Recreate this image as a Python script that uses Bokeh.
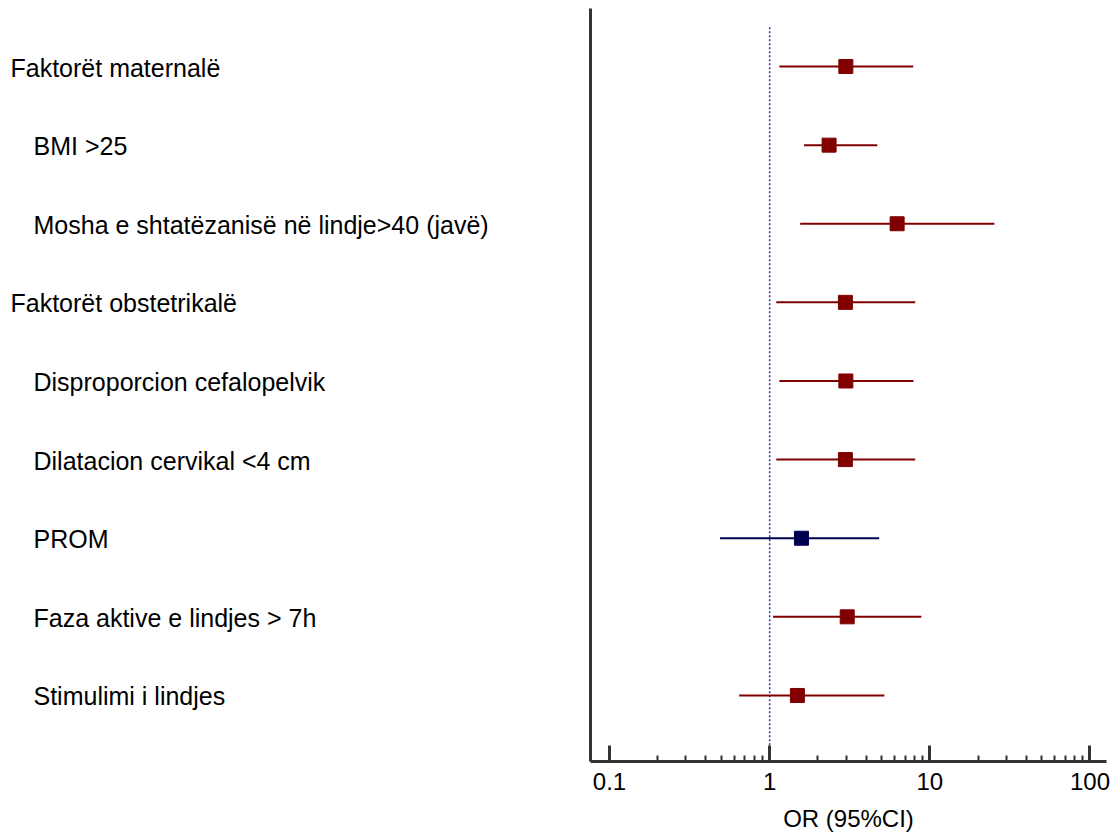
from bokeh.plotting import figure
from bokeh.models import Range1d, FixedTicker, NumeralTickFormatter, ColumnDataSource
from bokeh.layouts import row
from bokeh.embed import file_html
from bokeh.resources import INLINE
from bokeh.core.properties import value

# Forest plot of odds ratios (95% CI), one row per factor, top to bottom
labels = [
    "Faktorët maternalë",
    "BMI >25",
    "Mosha e shtatëzanisë në lindje>40 (javë)",
    "Faktorët obstetrikalë",
    "Disproporcion cefalopelvik",
    "Dilatacion cervikal <4 cm",
    "PROM",
    "Faza aktive e lindjes > 7h",
    "Stimulimi i lindjes",
]
levels = [0, 1, 1, 0, 1, 1, 1, 1, 1]          # 0 = group heading, 1 = factor
odds_ratio = [2.99, 2.35, 6.25, 2.97, 2.99, 2.97, 1.58, 3.05, 1.49]
ci_low = [1.15, 1.64, 1.55, 1.10, 1.15, 1.10, 0.49, 1.05, 0.645]
ci_high = [7.88, 4.70, 25.3, 8.10, 7.90, 8.10, 4.83, 8.85, 5.20]

major_ticks = [0.1, 1, 10, 100]
minor_ticks = [k * d for d in (0.1, 1, 10) for k in range(2, 10)]

MAROON = "#800000"
NAVY = "#000050"
AXIS = "#333333"
FONT = "Liberation Sans"

rows = list(range(len(labels)))
colors = [NAVY if lab == "PROM" else MAROON for lab in labels]

src = ColumnDataSource(dict(
    y=rows, label=labels, level=levels, orr=odds_ratio,
    lo=ci_low, hi=ci_high, color=colors,
    tx=[10 + 23 * lv for lv in levels],
))

y_range = Range1d(8.84, -0.738)
BORDER_TOP = 8
BORDER_BOTTOM = 77

# ---- label column -------------------------------------------------------
left = figure(width=588, height=838, x_range=Range1d(0, 588), y_range=y_range,
              x_axis_type=None, y_axis_type=None, toolbar_location=None,
              output_backend="svg", min_border_left=0, min_border_right=0,
              min_border_top=BORDER_TOP, min_border_bottom=BORDER_BOTTOM)
left.outline_line_color = None
left.grid.visible = False
left.text(x="tx", y="y", text="label", source=src, text_font=value(FONT),
          text_font_size="25px", text_color="black", text_align="left",
          text_baseline="middle", y_offset=1)

# ---- plot ---------------------------------------------------------------
p = figure(width=527, height=838, x_axis_type="log",
           x_range=Range1d(0.0761, 126.8), y_range=y_range,
           toolbar_location=None, output_backend="svg",
           min_border_left=2, min_border_right=9,
           min_border_top=BORDER_TOP, min_border_bottom=BORDER_BOTTOM)
p.outline_line_color = None
p.grid.visible = False

xa = p.xaxis[0]
xa.ticker = FixedTicker(ticks=major_ticks, minor_ticks=minor_ticks)
xa.formatter = NumeralTickFormatter(format="0.[0]")
xa.axis_line_width = 3
xa.axis_line_color = AXIS
xa.major_tick_line_width = 3
xa.major_tick_line_color = AXIS
xa.major_tick_in = 16
xa.major_tick_out = 0
xa.minor_tick_line_width = 2
xa.minor_tick_line_color = AXIS
xa.minor_tick_in = 6
xa.minor_tick_out = 0
xa.major_label_text_font = FONT
xa.major_label_text_font_size = "24px"
xa.major_label_text_color = "black"
xa.major_label_standoff = 11
xa.axis_label = "OR (95%CI)"
xa.axis_label_text_font = FONT
xa.axis_label_text_font_size = "24px"
xa.axis_label_text_font_style = "normal"
xa.axis_label_text_color = "black"
xa.axis_label_standoff = 12

ya = p.yaxis[0]
ya.ticker = FixedTicker(ticks=[])
ya.major_label_text_font_size = "0px"
ya.major_label_standoff = 0
ya.major_tick_out = 0
ya.major_tick_in = 0
ya.minor_tick_out = 0
ya.minor_tick_in = 0
ya.axis_line_width = 3
ya.axis_line_color = AXIS

# reference line at OR = 1
p.segment(x0=[1], x1=[1], y0=[-0.5], y1=[y_range.start], line_color="#3030b0",
          line_width=1.5, line_dash="2 2")

p.segment(x0="lo", x1="hi", y0="y", y1="y", source=src, line_color="color",
          line_width=2)
p.scatter(x="orr", y="y", source=src, marker="square", size=14,
          fill_color="color", line_color="color", line_width=1)

layout = row(left, p, spacing=0)

open("out.html", "w").write(file_html(layout, INLINE))
